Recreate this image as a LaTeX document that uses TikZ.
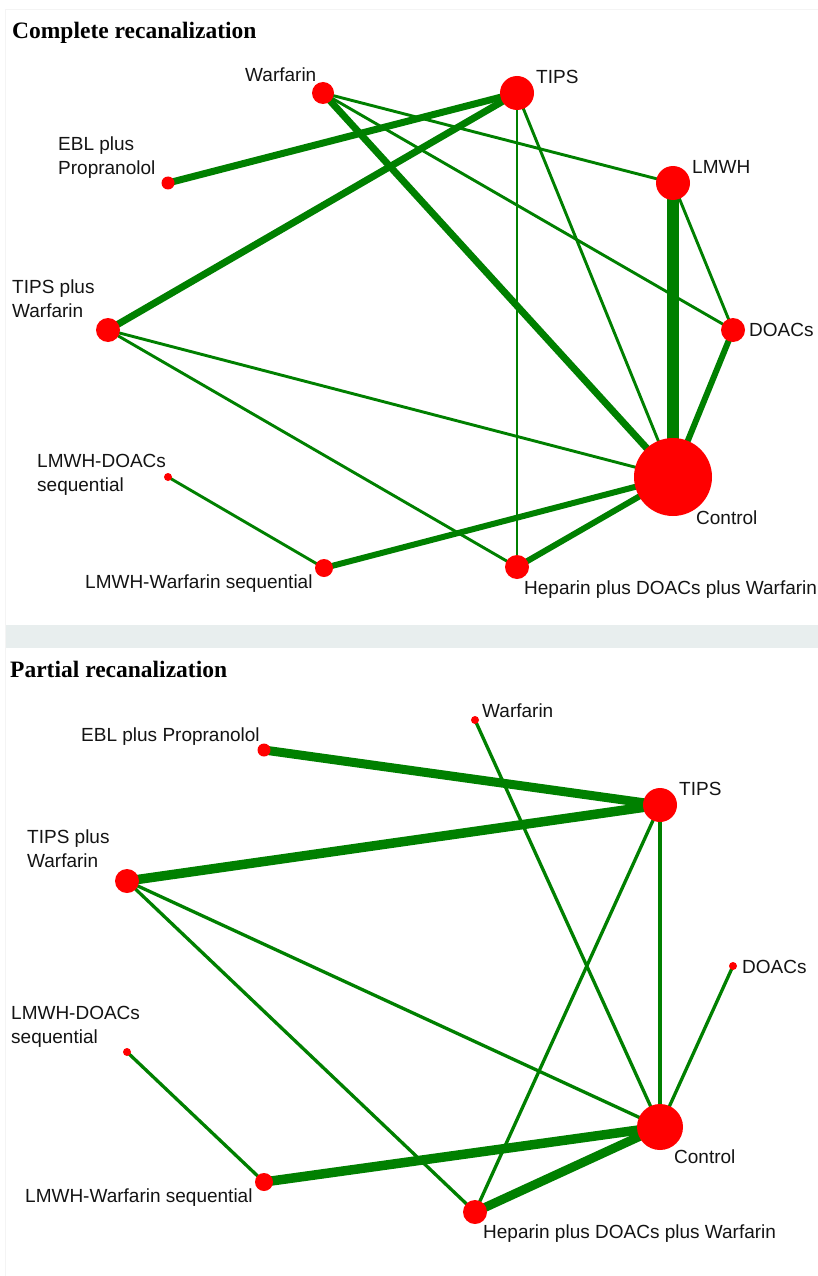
\documentclass[tikz,border=0pt]{standalone}
\usepackage{fontspec}
\setmainfont{Liberation Sans}
\newfontfamily\titlefont{Liberation Serif}
\definecolor{netgreen}{RGB}{0,128,0}
\definecolor{bandgray}{RGB}{232,238,238}
\definecolor{rimgray}{RGB}{244,244,244}
\pgfdeclarelayer{bg}
\pgfsetlayers{bg,main}

\begin{document}
\begin{tikzpicture}[x=1pt,y=-1pt,
                    every node/.style={font=\fontsize{19}{24.5}\selectfont},
                    trt/.style={circle,fill=red,draw=none,inner sep=0pt,minimum size=#1},
                    lbl/.style={inner sep=0pt,anchor=base west,align=left,text=black!92},
                    ttl/.style={inner sep=0pt,anchor=base west,font={\titlefont\bfseries\fontsize{23.5}{28}\selectfont}},
                    lnk/.style={draw=netgreen,line width=#1}]
  \useasboundingbox (0,0) rectangle (818,1276);

  % panel titles
  \node[ttl] (ttlA) at (12,38.5) {Complete recanalization};
  \node[ttl] (ttlB) at (10,677) {Partial recanalization};

  % complete recanalization
  \node[trt=22pt] (warf1)  at (323,93)  {};
  \node[trt=34pt] (tips1)  at (517,93)  {};
  \node[trt=13pt] (ebl1)   at (168,183) {};
  \node[trt=34pt] (lmwh1)  at (673,183) {};
  \node[trt=24pt] (tpw1)   at (108,330) {};
  \node[trt=24pt] (doacs1) at (733,330) {};
  \node[trt=8pt]  (ldoac1) at (168,477) {};
  \node[trt=78pt] (ctrl1)  at (673,477) {};
  \node[trt=18pt] (lwarf1) at (324,568) {};
  \node[trt=24pt] (hep1)   at (517,567) {};

  \node[lbl] (warf1txt)  at (245,81.8)  {Warfarin};
  \node[lbl] (tips1txt)  at (536,83.8)  {TIPS};
  \node[lbl] (ebl1txt)   at (58,174.8)  {EBL plus\\Propranolol};
  \node[lbl] (lmwh1txt)  at (692,173.8) {LMWH};
  \node[lbl] (tpw1txt)   at (12,317.8)  {TIPS plus\\Warfarin};
  \node[lbl] (doacs1txt) at (749,336.8) {DOACs};
  \node[lbl] (ldoac1txt) at (37,491.8)  {LMWH-DOACs\\sequential};
  \node[lbl] (ctrl1txt)  at (696,524.8) {Control};
  \node[lbl] (lwarf1txt) at (85,588.8)  {LMWH-Warfarin sequential};
  \node[lbl] (hep1txt)   at (524,594.8) {Heparin plus DOACs plus Warfarin};

  % partial recanalization
  \node[trt=8pt]  (warf2)  at (475,720)  {};
  \node[trt=13pt] (ebl2)   at (264,750)  {};
  \node[trt=34pt] (tips2)  at (660,805)  {};
  \node[trt=24pt] (tpw2)   at (127,881)  {};
  \node[trt=8pt]  (doacs2) at (733,966)  {};
  \node[trt=8pt]  (ldoac2) at (127,1052) {};
  \node[trt=46pt] (ctrl2)  at (660,1127) {};
  \node[trt=18pt] (lwarf2) at (264,1182) {};
  \node[trt=24pt] (hep2)   at (475,1212) {};

  \node[lbl] (warf2txt)  at (482,717.8)  {Warfarin};
  \node[lbl] (ebl2txt)   at (81,741.8)   {EBL plus Propranolol};
  \node[lbl] (tips2txt)  at (679,795.8)  {TIPS};
  \node[lbl] (tpw2txt)   at (27,867.8)   {TIPS plus\\Warfarin};
  \node[lbl] (doacs2txt) at (742,973.8)  {DOACs};
  \node[lbl] (ldoac2txt) at (11,1043.8)  {LMWH-DOACs\\sequential};
  \node[lbl] (ctrl2txt)  at (674,1163.8) {Control};
  \node[lbl] (lwarf2txt) at (25,1202.8)  {LMWH-Warfarin sequential};
  \node[lbl] (hep2txt)   at (483,1238.8) {Heparin plus DOACs plus Warfarin};

  \begin{pgfonlayer}{bg}
    \fill[white] (0,0) rectangle (818,1276);
    \fill[bandgray] (5,625) rectangle (818,648);
    \draw[rimgray,line width=1pt] (5,1276) -- (5,10) -- (818,10);

    \path (warf1.center)  edge[lnk=2.9pt] (lmwh1.center)
          (warf1.center)  edge[lnk=2.9pt] (doacs1.center)
          (warf1.center)  edge[lnk=7pt]   (ctrl1.center)
          (tips1.center)  edge[lnk=7pt]   (ebl1.center)
          (tips1.center)  edge[lnk=7pt]   (tpw1.center)
          (tips1.center)  edge[lnk=2.9pt] (hep1.center)
          (tips1.center)  edge[lnk=2.9pt] (ctrl1.center)
          (lmwh1.center)  edge[lnk=12pt]  (ctrl1.center)
          (lmwh1.center)  edge[lnk=2.9pt] (doacs1.center)
          (doacs1.center) edge[lnk=6pt]   (ctrl1.center)
          (tpw1.center)   edge[lnk=2.9pt] (ctrl1.center)
          (tpw1.center)   edge[lnk=2.9pt] (hep1.center)
          (ldoac1.center) edge[lnk=2.9pt] (lwarf1.center)
          (lwarf1.center) edge[lnk=6pt]   (ctrl1.center)
          (hep1.center)   edge[lnk=6pt]   (ctrl1.center)
    ; %end path

    \path (ebl2.center)   edge[lnk=9pt]   (tips2.center)
          (tpw2.center)   edge[lnk=9.5pt] (tips2.center)
          (warf2.center)  edge[lnk=3.3pt] (ctrl2.center)
          (tips2.center)  edge[lnk=3.3pt] (ctrl2.center)
          (tips2.center)  edge[lnk=3.3pt] (hep2.center)
          (tpw2.center)   edge[lnk=3.3pt] (ctrl2.center)
          (tpw2.center)   edge[lnk=3.3pt] (hep2.center)
          (doacs2.center) edge[lnk=3.3pt] (ctrl2.center)
          (ldoac2.center) edge[lnk=3.3pt] (lwarf2.center)
          (lwarf2.center) edge[lnk=9.5pt] (ctrl2.center)
          (hep2.center)   edge[lnk=9pt]   (ctrl2.center)
    ; %end path
  \end{pgfonlayer}

\end{tikzpicture}
\end{document}
